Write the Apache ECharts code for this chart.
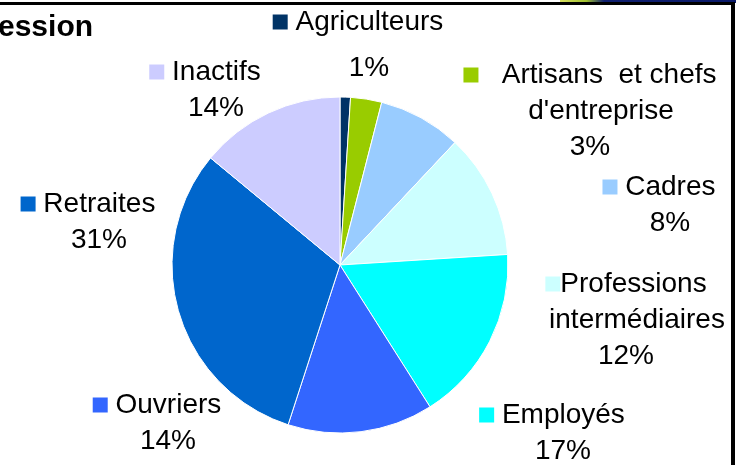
<!DOCTYPE html>
<html>
<head>
<meta charset="utf-8">
<script src="https://cdn.jsdelivr.net/npm/echarts@6/dist/echarts.min.js"></script>
<style>
html, body { margin: 0; padding: 0; background: #fff; }
#main { width: 736px; height: 465px; }
</style>
</head>
<body>
<div id="main"></div>
<script>
// données : répartition par profession
var categories = ['Agriculteurs', 'Artisans  et chefs\nd\'entreprise', 'Cadres', 'Professions\nintermédiaires', 'Employés', 'Ouvriers', 'Retraites', 'Inactifs'];
var values = [1, 3, 8, 12, 17, 14, 31, 14];
var pctLabels = ['1%', '3%', '8%', '12%', '17%', '14%', '31%', '14%'];
var colors = ['#003366', '#99CC00', '#99CCFF', '#CCFFFF', '#00FFFF', '#3366FF', '#0066CC', '#CCCCFF'];

// position des étiquettes (centre x, haut y)
var labelPos = [[358, 4], [590, 57], [659, 169], [626, 266], [552, 397], [157, 387], [88, 186], [205, 54]];
var sqGap = [' ', '   ', ' ', '', ' ', ' ', ' ', ' '];

var rich = {
	t: { fontSize: 28, fontFamily: 'Liberation Sans', color: '#000', lineHeight: 36 },
	tTall: { fontSize: 28, fontFamily: 'Liberation Sans', color: '#000', lineHeight: 56 },
	sp: { width: 22 }
};
colors.forEach(function (c, i) {
	rich['s' + i] = { width: 15, height: 15, backgroundColor: c };
});

var myChart = echarts.init(document.getElementById('main'));
var option = {
	animation: false,
	graphic: [
		{ type: 'rect', shape: { x: 560, y: 0, width: 176, height: 3 },
			style: { fill: new echarts.graphic.LinearGradient(0, 0, 1, 0, [
				{ offset: 0, color: '#d8e060' }, { offset: 0.15, color: '#a0c030' },
				{ offset: 0.25, color: '#102070' }, { offset: 1, color: '#0a1a6a' }]) } },
		{ type: 'line', shape: { x1: 0, y1: 3.5, x2: 735, y2: 3.5 }, style: { stroke: '#000', lineWidth: 3 } },
		{ type: 'line', shape: { x1: 733, y1: 2, x2: 733, y2: 465 }, style: { stroke: '#000', lineWidth: 4 } },
		{ type: 'text', left: -2, top: 13,
			style: { text: 'ession', fontSize: 30, fontWeight: 'bold', fontFamily: 'Liberation Sans', fill: '#000' } }
	],
	series: [{
		type: 'pie',
		center: [340, 265],
		radius: 168,
		startAngle: 90,
		clockwise: true,
		avoidLabelOverlap: false,
		itemStyle: { borderColor: '#fff', borderWidth: 1 },
		labelLine: { show: false },
		label: {
			show: true,
			position: 'outside',
			align: 'center',
			formatter: function (p) {
				var i = p.dataIndex;
				var lines = categories[i].split('\n');
				var out = '{s' + i + '|}{t|' + sqGap[i] + lines[0] + '}';
				for (var k = 1; k < lines.length; k++) {
					out += '\n{sp|}{t|' + lines[k] + '}';
				}
				// pourcentage centré sous le nom (sauf libellés sur deux lignes)
				var sp = lines.length > 1 ? '' : '{sp|}';
				out += '\n' + sp + '{' + (i === 0 ? 'tTall' : 't') + '|' + pctLabels[i] + '}';
				return out;
			},
			rich: rich
		},
		labelLayout: function (params) {
			var pos = labelPos[params.dataIndex];
			return { x: pos[0], y: pos[1], align: 'center', verticalAlign: 'top' };
		},
		data: values.map(function (v, i) {
			return { value: v, name: categories[i], itemStyle: { color: colors[i] } };
		})
	}]
};
myChart.setOption(option);
</script>
</body>
</html>
